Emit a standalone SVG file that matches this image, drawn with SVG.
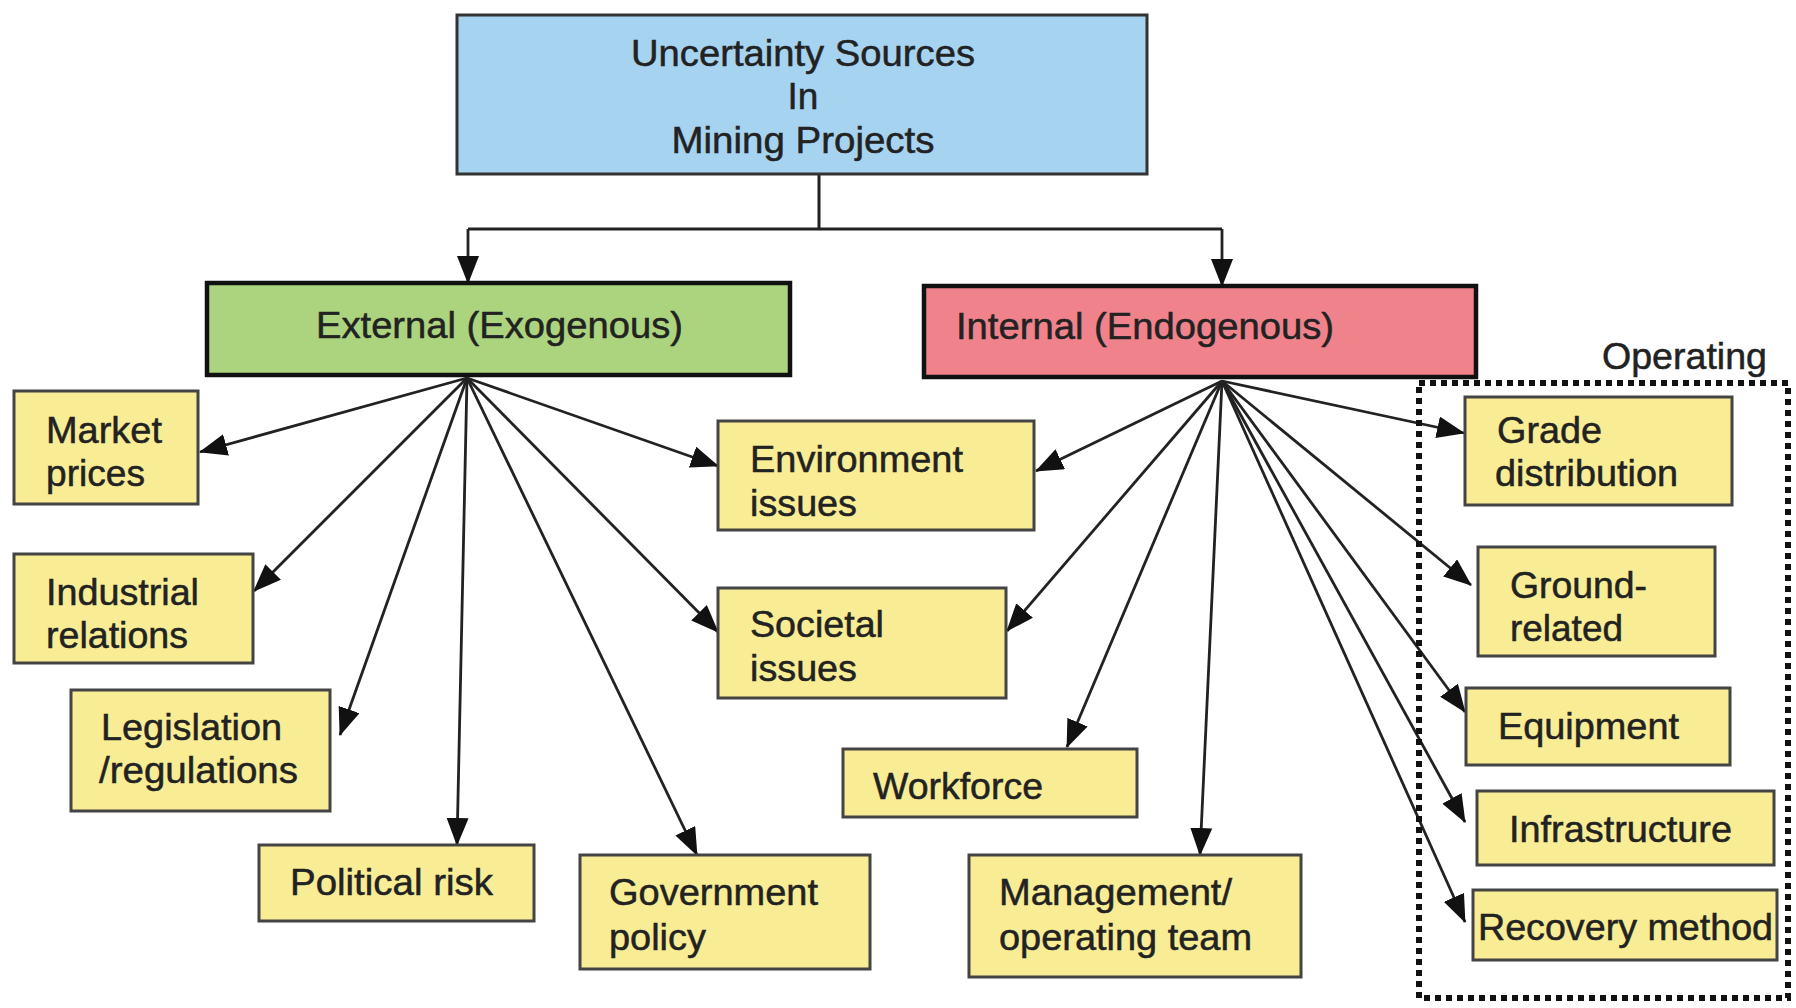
<svg xmlns="http://www.w3.org/2000/svg" width="1796" height="1008" viewBox="0 0 1796 1008">
<defs>
<marker id="ah" markerUnits="userSpaceOnUse" markerWidth="28" markerHeight="22" refX="27" refY="11" orient="auto">
<path d="M0,0 L28,11 L0,22 z" fill="#111"/>
</marker>
<style>
text{font-family:"Liberation Sans",Arial,sans-serif;font-size:37px;fill:#222;stroke:#222;stroke-width:0.5;}
.yb{fill:#f8ec94;stroke:#444;stroke-width:3;}
.ln{fill:none;stroke:#222;stroke-width:2.8;marker-end:url(#ah);}
</style>
</defs>
<rect width="1796" height="1008" fill="#ffffff"/>

<g id="connectors">
<path d="M819,174 V229 M468,229 H1222" fill="none" stroke="#222" stroke-width="3"/>
<path class="ln" d="M468,229 V283"/>
<path class="ln" d="M1222,229 V286"/>
<path class="ln" d="M467,378 L200,452"/>
<path class="ln" d="M467,378 L254,591"/>
<path class="ln" d="M467,378 L340,735"/>
<path class="ln" d="M467,378 L457,845"/>
<path class="ln" d="M467,378 L697,855"/>
<path class="ln" d="M467,378 L718,466"/>
<path class="ln" d="M467,378 L718,632"/>
<path class="ln" d="M1222,381 L1036,471"/>
<path class="ln" d="M1222,381 L1007,631"/>
<path class="ln" d="M1222,381 L1067,747"/>
<path class="ln" d="M1222,381 L1200,855"/>
<path class="ln" d="M1222,381 L1464,433"/>
<path class="ln" d="M1222,381 L1471,585"/>
<path class="ln" d="M1222,381 L1465,712"/>
<path class="ln" d="M1222,381 L1465,822"/>
<path class="ln" d="M1222,381 L1465,922"/>
</g>

<g id="root">
<rect x="457" y="15" width="690" height="159" fill="#a6d3f0" stroke="#333" stroke-width="3"/>
<text x="803" y="66" text-anchor="middle" textLength="344" lengthAdjust="spacingAndGlyphs">Uncertainty Sources</text>
<text x="803" y="109" text-anchor="middle">In</text>
<text x="803" y="153" text-anchor="middle" textLength="263" lengthAdjust="spacingAndGlyphs">Mining Projects</text>
</g>

<g id="external">
<rect x="207" y="283" width="583" height="92" fill="#acd47e" stroke="#111" stroke-width="4.5"/>
<text x="316" y="338" textLength="367" lengthAdjust="spacingAndGlyphs">External (Exogenous)</text>
</g>

<g id="internal">
<rect x="924" y="286" width="552" height="91" fill="#f0828c" stroke="#111" stroke-width="4.5"/>
<text x="956" y="339" textLength="378" lengthAdjust="spacingAndGlyphs">Internal (Endogenous)</text>
</g>

<g id="operating-group">
<rect x="1419" y="383" width="369" height="615" fill="none" stroke="#111" stroke-width="6" stroke-dasharray="6 5"/>
<text x="1602" y="369" textLength="165" lengthAdjust="spacingAndGlyphs">Operating</text>
</g>

<g id="market-prices">
<rect class="yb" x="14" y="391" width="184" height="113"/>
<text x="46" y="443" textLength="116" lengthAdjust="spacingAndGlyphs">Market</text>
<text x="46" y="486" textLength="99" lengthAdjust="spacingAndGlyphs">prices</text>
</g>

<g id="industrial-relations">
<rect class="yb" x="14" y="554" width="239" height="109"/>
<text x="46" y="605" textLength="153" lengthAdjust="spacingAndGlyphs">Industrial</text>
<text x="46" y="648" textLength="142" lengthAdjust="spacingAndGlyphs">relations</text>
</g>

<g id="legislation">
<rect class="yb" x="71" y="690" width="259" height="121"/>
<text x="101" y="740" textLength="181" lengthAdjust="spacingAndGlyphs">Legislation</text>
<text x="99" y="783" textLength="199" lengthAdjust="spacingAndGlyphs">/regulations</text>
</g>

<g id="political-risk">
<rect class="yb" x="259" y="845" width="275" height="76"/>
<text x="290" y="895" textLength="203" lengthAdjust="spacingAndGlyphs">Political risk</text>
</g>

<g id="government-policy">
<rect class="yb" x="580" y="855" width="290" height="114"/>
<text x="609" y="905" textLength="209" lengthAdjust="spacingAndGlyphs">Government</text>
<text x="609" y="950" textLength="97" lengthAdjust="spacingAndGlyphs">policy</text>
</g>

<g id="environment-issues">
<rect class="yb" x="718" y="421" width="316" height="109"/>
<text x="750" y="472" textLength="213" lengthAdjust="spacingAndGlyphs">Environment</text>
<text x="750" y="516" textLength="107" lengthAdjust="spacingAndGlyphs">issues</text>
</g>

<g id="societal-issues">
<rect class="yb" x="718" y="588" width="288" height="110"/>
<text x="750" y="637" textLength="134" lengthAdjust="spacingAndGlyphs">Societal</text>
<text x="750" y="681" textLength="107" lengthAdjust="spacingAndGlyphs">issues</text>
</g>

<g id="workforce">
<rect class="yb" x="843" y="749" width="294" height="68"/>
<text x="873" y="799" textLength="170" lengthAdjust="spacingAndGlyphs">Workforce</text>
</g>

<g id="management">
<rect class="yb" x="969" y="855" width="332" height="122"/>
<text x="999" y="905" textLength="233" lengthAdjust="spacingAndGlyphs">Management/</text>
<text x="999" y="950" textLength="253" lengthAdjust="spacingAndGlyphs">operating team</text>
</g>

<g id="grade-distribution">
<rect class="yb" x="1465" y="397" width="267" height="108"/>
<text x="1497" y="443" textLength="105" lengthAdjust="spacingAndGlyphs">Grade</text>
<text x="1495" y="486" textLength="183" lengthAdjust="spacingAndGlyphs">distribution</text>
</g>

<g id="ground-related">
<rect class="yb" x="1478" y="547" width="237" height="109"/>
<text x="1510" y="598" textLength="137" lengthAdjust="spacingAndGlyphs">Ground-</text>
<text x="1510" y="641" textLength="113" lengthAdjust="spacingAndGlyphs">related</text>
</g>

<g id="equipment">
<rect class="yb" x="1466" y="688" width="264" height="77"/>
<text x="1498" y="739" textLength="181" lengthAdjust="spacingAndGlyphs">Equipment</text>
</g>

<g id="infrastructure">
<rect class="yb" x="1477" y="791" width="297" height="74"/>
<text x="1509" y="842" textLength="223" lengthAdjust="spacingAndGlyphs">Infrastructure</text>
</g>

<g id="recovery-method">
<rect class="yb" x="1473" y="890" width="304" height="70"/>
<text x="1478" y="940" textLength="295" lengthAdjust="spacingAndGlyphs">Recovery method</text>
</g>
</svg>
